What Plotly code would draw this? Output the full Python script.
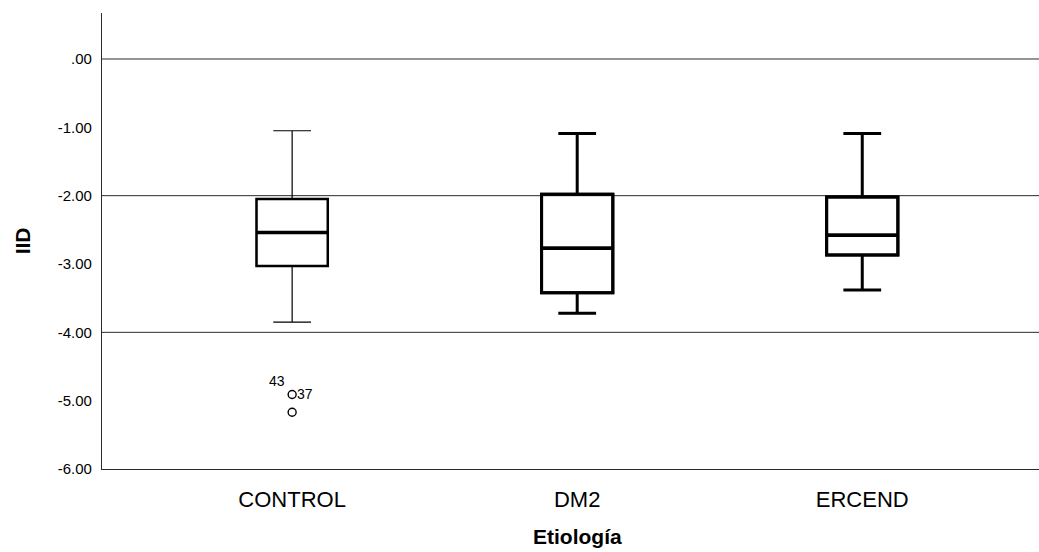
import plotly.graph_objects as go

# Box-plot summary statistics of IID by etiology group
categories = ["CONTROL", "DM2", "ERCEND"]
upper_whisker = [-1.05, -1.09, -1.09]
q3_values = [-2.05, -1.98, -2.02]
medians = [-2.54, -2.77, -2.58]
q1_values = [-3.03, -3.42, -2.87]
lower_whisker = [-3.85, -3.72, -3.38]

# Outlying cases in the CONTROL group (case id, value)
outlier_ids = ["37", "43"]
outlier_values = [-4.91, -5.17]
outlier_group = 0

# Axis ticks
y_tickvals = [0, -1, -2, -3, -4, -5, -6]
y_ticktext = [".00", "-1.00", "-2.00", "-3.00", "-4.00", "-5.00", "-6.00"]
grid_levels = [0, -2, -4]

FONT = "Liberation Sans, Arial, sans-serif"
BOX_W = 0.25
box_lw = [1.2, 3, 3]      # whisker/box outline weight per group
frame_lw = [2.5, 3, 3]    # box frame weight per group
median_lw = 3.5

fig = go.Figure()

for i, cat in enumerate(categories):
    # full box with whiskers
    fig.add_trace(go.Box(
        x=[i], q1=[q1_values[i]], median=[medians[i]], q3=[q3_values[i]],
        lowerfence=[lower_whisker[i]], upperfence=[upper_whisker[i]],
        width=BOX_W, whiskerwidth=0.53,
        line=dict(color="black", width=box_lw[i]),
        fillcolor="rgba(255,255,255,0)", boxpoints=False,
        hoverinfo="skip", showlegend=False,
    ))
    # heavier frame drawn over the box only
    fig.add_trace(go.Box(
        x=[i], q1=[q1_values[i]], median=[medians[i]], q3=[q3_values[i]],
        lowerfence=[q1_values[i]], upperfence=[q3_values[i]],
        width=BOX_W, whiskerwidth=0,
        line=dict(color="black", width=frame_lw[i]),
        fillcolor="rgba(255,255,255,0)", boxpoints=False,
        hoverinfo="skip", showlegend=False,
    ))
    # emphasised median bar
    fig.add_trace(go.Scatter(
        x=[i - BOX_W / 2, i + BOX_W / 2], y=[medians[i], medians[i]],
        mode="lines", line=dict(color="black", width=median_lw),
        hoverinfo="skip", showlegend=False,
    ))

# outliers as open circles
fig.add_trace(go.Scatter(
    x=[outlier_group] * len(outlier_values), y=outlier_values,
    mode="markers",
    marker=dict(symbol="circle-open", size=8, color="black", line=dict(width=1.4)),
    hoverinfo="skip", showlegend=False,
))

# case labels next to the outliers
fig.add_annotation(x=outlier_group, y=outlier_values[0], text=outlier_ids[0],
                   showarrow=False, xanchor="left", xshift=3, yshift=1,
                   font=dict(family=FONT, size=14, color="black"))
fig.add_annotation(x=outlier_group, y=outlier_values[1], text=outlier_ids[1],
                   showarrow=False, xanchor="center", xshift=-15, yshift=31,
                   font=dict(family=FONT, size=14, color="black"))

# horizontal reference grid
for g in grid_levels:
    fig.add_shape(type="line", xref="paper", x0=0, x1=1, yref="y", y0=g, y1=g,
                  line=dict(color="#2b2b2b", width=1), layer="below")

# axis titles
fig.add_annotation(x=1, xref="x", y=-0.148, yref="paper", text="<b>Etiología</b>",
                   showarrow=False, yanchor="middle",
                   font=dict(family=FONT, size=21, color="black"))
fig.add_annotation(x=-0.085, xref="paper", y=0.5, yref="paper", text="<b>IID</b>",
                   showarrow=False, textangle=-90, xanchor="center",
                   font=dict(family=FONT, size=21, color="black"))

fig.update_layout(
    width=1039, height=552,
    margin=dict(l=102, r=0, t=13, b=83),
    paper_bgcolor="white", plot_bgcolor="white",
    font=dict(family=FONT, color="black"),
    xaxis=dict(
        range=[-0.667, 2.62], tickvals=list(range(len(categories))),
        ticktext=categories, showgrid=False, zeroline=False,
        showline=True, linecolor="#2b2b2b", linewidth=1.2, ticks="",
        ticklabelstandoff=10, tickfont=dict(family=FONT, size=22, color="black"),
    ),
    yaxis=dict(
        range=[-6, 0.673], tickvals=y_tickvals, ticktext=y_ticktext,
        showgrid=False, zeroline=False, showline=True, linecolor="#2b2b2b",
        linewidth=1.2, ticks="", ticklabelstandoff=6,
        tickfont=dict(family=FONT, size=15, color="black"),
    ),
)

fig.write_html("out.html")
